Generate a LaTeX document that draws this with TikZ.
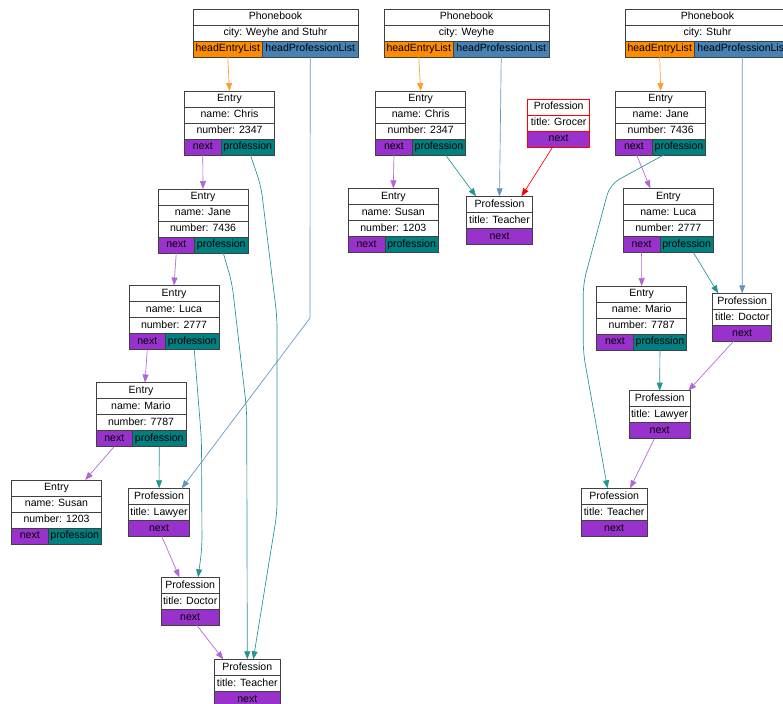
\documentclass[tikz,border=0pt]{standalone}
\usepackage{fontspec}
\setmainfont{Liberation Sans}
\usetikzlibrary{arrows.meta,positioning}

\definecolor{headent}{HTML}{FF8C00}
\definecolor{headprof}{HTML}{4682B4}
\definecolor{nextcol}{HTML}{9932CC}
\definecolor{profcol}{HTML}{008080}

\tikzset{
  cell/.style={draw=black!75,fill=white,line width=0.5pt,inner sep=0pt,outer sep=0pt,
    minimum height=12pt,text height=5.9pt,text depth=1.7pt,font=\fontsize{7.9}{9}\selectfont},
  nextcell/.style={cell,fill=nextcol},
  profcell/.style={cell,fill=profcol},
  entcell/.style={cell,fill=headent},
  listcell/.style={cell,fill=headprof},
  edge/.style={line width=0.5pt,-{Triangle[length=6pt,width=4.5pt]}},
  nextedge/.style={edge,draw=nextcol!75!white},
  profedge/.style={edge,draw=profcol!85!white},
  entedge/.style={edge,draw=headent!85!white},
  listedge/.style={edge,draw=headprof!85!white},
  grocedge/.style={edge,draw=red}
}

% phonebook record: id, x, y, city
\newcommand{\pbook}[4]{%
  \node[cell,minimum width=123.75pt,anchor=north west] (#1) at (#2,#3) {Phonebook};
  \node[cell,minimum width=123.75pt,below=0pt of #1] (#1-city) {city: #4};
  \node[entcell,minimum width=52.1pt,anchor=north west] (#1-ent) at (#1-city.south west) {headEntryList};
  \node[listcell,minimum width=71.65pt,right=0pt of #1-ent] (#1-prof) {headProfessionList};
}
% entry record: id, x, y, name, number
\newcommand{\entrybox}[5]{%
  \node[cell,minimum width=67.5pt,anchor=north west] (#1) at (#2,#3) {Entry};
  \node[cell,minimum width=67.5pt,below=0pt of #1] (#1-name) {name: #4};
  \node[cell,minimum width=67.5pt,below=0pt of #1-name] (#1-num) {number: #5};
  \node[nextcell,minimum width=27.4pt,anchor=north west] (#1-next) at (#1-num.south west) {next};
  \node[profcell,minimum width=40.1pt,right=0pt of #1-next] (#1-prof) {profession};
}
% profession record: [extra style] id, x, y, width (px), title
\newcommand{\profbox}[6][]{%
  \node[cell,#1,minimum width=#5*0.75pt,anchor=north west] (#2) at (#3,#4) {Profession};
  \node[cell,#1,minimum width=#5*0.75pt,below=0pt of #2] (#2-title) {title: #6};
  \node[nextcell,#1,minimum width=#5*0.75pt,below=0pt of #2-title] (#2-next) {next};
}

\begin{document}
\begin{tikzpicture}[x=0.75pt,y=-0.75pt]
  \useasboundingbox (0,0) rectangle (783,704);

  % Weyhe and Stuhr
  \pbook{pbL}{193}{9}{Weyhe and Stuhr}
  \entrybox{chrisL}{184.5}{91}{Chris}{2347}
  \entrybox{janeL}{158}{189}{Jane}{7436}
  \entrybox{lucaL}{129}{285.5}{Luca}{2777}
  \entrybox{marioL}{96}{382.5}{Mario}{7787}
  \entrybox{susanL}{11.5}{480}{Susan}{1203}
  \profbox{lawyerL}{128.3}{488.3}{61.5}{Lawyer}
  \profbox{doctorL}{161}{577.3}{58.3}{Doctor}
  \profbox{teacherL}{214.3}{659.3}{66}{Teacher}

  \draw[entedge] (pbL-ent.south) -- (chrisL.north);
  \draw[nextedge] (chrisL-next.south) -- (janeL.north);
  \draw[nextedge] (janeL-next.south) -- (lucaL.north);
  \draw[nextedge] (lucaL-next.south) -- ([xshift=3pt]marioL.north);
  \draw[nextedge] (marioL-next.south) -- ([xshift=21.5pt]susanL.north);
  \draw[profedge] (marioL-prof.south) -- (lawyerL.north);
  \draw[listedge] (pbL-prof.south) -- (310,318) -- ([xshift=17pt]lawyerL.north);
  \draw[profedge,rounded corners=8pt] ([xshift=2pt]chrisL-prof.south) -- (261,186) -- (277,317)
    -- (277,513) -- ([xshift=4.5pt]teacherL.north);
  \draw[profedge,rounded corners=8pt] ([xshift=1.5pt]janeL-prof.south) -- (232,283) -- (246.7,410)
    -- (teacherL.north);
  \draw[profedge,rounded corners=8pt] ([xshift=1.5pt]lucaL-prof.south) -- (201.5,440) -- (202,548)
    -- ([xshift=6pt]doctorL.north);
  \draw[nextedge] ([xshift=2pt]lawyerL-next.south) -- ([xshift=-8pt]doctorL.north);
  \draw[nextedge] ([xshift=5pt]doctorL-next.south) -- ([xshift=-18pt]teacherL.north);

  % Weyhe
  \pbook{pbM}{384}{9}{Weyhe}
  \entrybox{chrisM}{375.7}{91}{Chris}{2347}
  \entrybox{susanM}{348.3}{188.3}{Susan}{1203}
  \profbox{teacherM}{466.7}{196.3}{65.6}{Teacher}
  \profbox[draw=red]{grocerM}{527.7}{99}{62}{Grocer}

  \draw[entedge] (pbM-ent.south) -- (chrisM.north);
  \draw[nextedge] (chrisM-next.south) -- (susanM.north);
  \draw[profedge] ([xshift=5pt]chrisM-prof.south) -- ([xshift=-17.6pt]teacherM.north);
  \draw[listedge] (pbM-prof.south) -- (teacherM.north);
  \draw[grocedge] ([xshift=-4.5pt]grocerM-next.south) -- ([xshift=16.5pt]teacherM.north);

  % Stuhr
  \pbook{pbR}{625}{9}{Stuhr}
  \entrybox{janeR}{615.7}{91}{Jane}{7436}
  \entrybox{lucaR}{623.3}{188.3}{Luca}{2777}
  \entrybox{marioR}{596.7}{286}{Mario}{7787}
  \profbox{doctorR}{712.7}{293.3}{59}{Doctor}
  \profbox{lawyerR}{629}{390.7}{61.3}{Lawyer}
  \profbox{teacherR}{581}{488.3}{66.3}{Teacher}

  \draw[entedge] (pbR-ent.south) -- (janeR.north);
  \draw[nextedge] ([xshift=2pt]janeR-next.south) -- ([xshift=-13.5pt]lucaR.north);
  \draw[listedge] (pbR-prof.south) -- (doctorR.north);
  \draw[profedge,rounded corners=8pt] ([xshift=-11.5pt]janeR-prof.south) -- (610,184.3) -- (583.3,283.3)
    -- (583.3,353) -- ([xshift=-5pt]teacherR.north);
  \draw[nextedge] (lucaR-next.south) -- (marioR.north);
  \draw[profedge] ([xshift=5pt]lucaR-prof.south) -- ([xshift=-18pt]doctorR.north);
  \draw[profedge] (marioR-prof.south) -- (lawyerR.north);
  \draw[nextedge] ([xshift=-6.5pt]doctorR-next.south) -- ([xshift=21.5pt]lawyerR.north);
  \draw[nextedge] ([xshift=-4pt]lawyerR-next.south) -- ([xshift=12pt]teacherR.north);
\end{tikzpicture}
\end{document}
